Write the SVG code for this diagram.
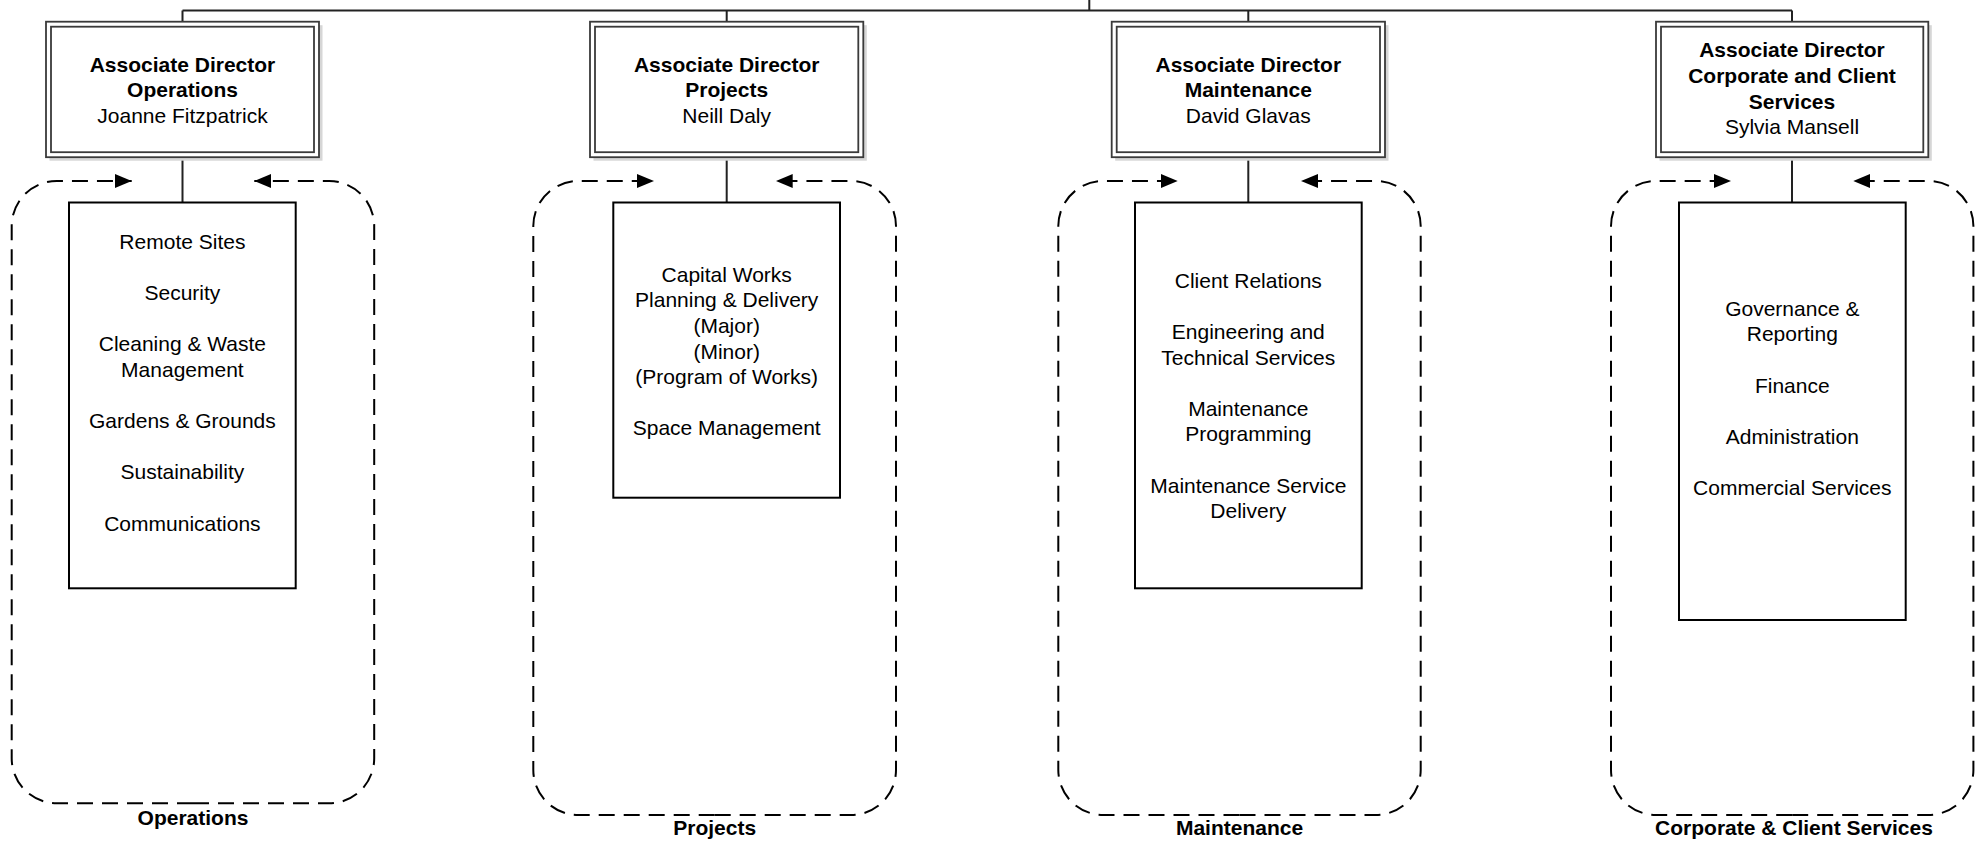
<svg xmlns="http://www.w3.org/2000/svg" width="1975" height="842" viewBox="0 0 1975 842">
<style>
text{font-family:"Liberation Sans",Arial,sans-serif;font-size:21px;fill:#000;text-anchor:middle}
.b{font-weight:bold}
.shadow{fill:#d6d6d6;stroke:none}
.outer{fill:#fff;stroke:#3a3a3a;stroke-width:1.8}
.inner{fill:none;stroke:#3a3a3a;stroke-width:1.8}
.sub{fill:#fff;stroke:#000;stroke-width:2}
.conn{fill:none;stroke:#222;stroke-width:2}
.dash{fill:none;stroke:#000;stroke-width:2;stroke-dasharray:16 9;marker-end:url(#arr)}
</style>
<defs>
<marker id="arr" viewBox="0 0 17 14" refX="17" refY="7" markerWidth="17" markerHeight="14" markerUnits="userSpaceOnUse" orient="auto">
<path d="M0,0 L17,7 L0,14 Z" fill="#000"/>
</marker>
</defs>
<rect width="1975" height="842" fill="#fff"/>

<g id="connectors">
<path class="conn" d="M182.5,10.5 H1792 M1089.3,0 V10.5 M182.5,10.5 V21.7 M726.7,10.5 V21.7 M1248.3,10.5 V21.7 M1792,10.5 V21.7"/>
<path class="conn" d="M182.5,157.2 V202.5 M726.7,157.2 V202.5 M1248.3,157.2 V202.5 M1792,157.2 V202.5"/>
<path class="dash" d="M193,803.3 H56.7 A45,45 0 0 1 11.7,758.3 V226 A45,45 0 0 1 56.7,181 H131.7"/>
<path class="dash" d="M193,803.3 H329.2 A45,45 0 0 0 374.2,758.3 V226 A45,45 0 0 0 329.2,181 H254.3"/>
<path class="dash" d="M714.7,815 H578.3 A45,45 0 0 1 533.3,770 V226 A45,45 0 0 1 578.3,181 H654"/>
<path class="dash" d="M714.7,815 H851 A45,45 0 0 0 896,770 V226 A45,45 0 0 0 851,181 H775.7"/>
<path class="dash" d="M1239.5,815 H1103.3 A45,45 0 0 1 1058.3,770 V226 A45,45 0 0 1 1103.3,181 H1177.7"/>
<path class="dash" d="M1239.5,815 H1375.7 A45,45 0 0 0 1420.7,770 V226 A45,45 0 0 0 1375.7,181 H1301"/>
<path class="dash" d="M1792.2,815 H1656 A45,45 0 0 1 1611,770 V226 A45,45 0 0 1 1656,181 H1731"/>
<path class="dash" d="M1792.2,815 H1928.4 A45,45 0 0 0 1973.4,770 V226 A45,45 0 0 0 1928.4,181 H1853.3"/>
</g>

<g id="ad-operations">
<rect class="shadow" x="49.5" y="25.2" width="273" height="135.5"/>
<rect class="outer" x="46" y="21.7" width="273" height="135.5"/>
<rect class="inner" x="51" y="26.7" width="263" height="125.5"/>
<text class="b" x="182.5" y="71.7">Associate Director</text>
<text class="b" x="182.5" y="97.3">Operations</text>
<text x="182.5" y="122.9">Joanne Fitzpatrick</text>
</g>

<g id="ad-projects">
<rect class="shadow" x="593.5" y="25.2" width="273.3" height="135.5"/>
<rect class="outer" x="590" y="21.7" width="273.3" height="135.5"/>
<rect class="inner" x="595" y="26.7" width="263.3" height="125.5"/>
<text class="b" x="726.7" y="71.7">Associate Director</text>
<text class="b" x="726.7" y="97.3">Projects</text>
<text x="726.7" y="122.9">Neill Daly</text>
</g>

<g id="ad-maintenance">
<rect class="shadow" x="1115.2" y="25.2" width="273.3" height="135.5"/>
<rect class="outer" x="1111.7" y="21.7" width="273.3" height="135.5"/>
<rect class="inner" x="1116.7" y="26.7" width="263.3" height="125.5"/>
<text class="b" x="1248.3" y="71.7">Associate Director</text>
<text class="b" x="1248.3" y="97.3">Maintenance</text>
<text x="1248.3" y="122.9">David Glavas</text>
</g>

<g id="ad-corporate">
<rect class="shadow" x="1659.5" y="25.2" width="272.3" height="135.5"/>
<rect class="outer" x="1656" y="21.7" width="272.3" height="135.5"/>
<rect class="inner" x="1661" y="26.7" width="262.3" height="125.5"/>
<text class="b" x="1792" y="57.3">Associate Director</text>
<text class="b" x="1792" y="82.9">Corporate and Client</text>
<text class="b" x="1792" y="108.5">Services</text>
<text x="1792" y="134.1">Sylvia Mansell</text>
</g>

<g id="sub-operations">
<rect class="sub" x="69" y="202.5" width="226.7" height="385.8"/>
<text x="182.4" y="249">Remote Sites</text>
<text x="182.4" y="300.2">Security</text>
<text x="182.4" y="351.4">Cleaning &amp; Waste</text>
<text x="182.4" y="377">Management</text>
<text x="182.4" y="428.2">Gardens &amp; Grounds</text>
<text x="182.4" y="479.4">Sustainability</text>
<text x="182.4" y="530.6">Communications</text>
</g>

<g id="sub-projects">
<rect class="sub" x="613.3" y="202.5" width="226.7" height="295.2"/>
<text x="726.7" y="281.7">Capital Works</text>
<text x="726.7" y="307.3">Planning &amp; Delivery</text>
<text x="726.7" y="332.9">(Major)</text>
<text x="726.7" y="358.5">(Minor)</text>
<text x="726.7" y="384.1">(Program of Works)</text>
<text x="726.7" y="435.3">Space Management</text>
</g>

<g id="sub-maintenance">
<rect class="sub" x="1135" y="202.5" width="226.7" height="385.8"/>
<text x="1248.3" y="287.7">Client Relations</text>
<text x="1248.3" y="338.9">Engineering and</text>
<text x="1248.3" y="364.5">Technical Services</text>
<text x="1248.3" y="415.7">Maintenance</text>
<text x="1248.3" y="441.3">Programming</text>
<text x="1248.3" y="492.5">Maintenance Service</text>
<text x="1248.3" y="518.1">Delivery</text>
</g>

<g id="sub-corporate">
<rect class="sub" x="1679" y="202.5" width="226.7" height="417.5"/>
<text x="1792.3" y="315.7">Governance &amp;</text>
<text x="1792.3" y="341.3">Reporting</text>
<text x="1792.3" y="392.5">Finance</text>
<text x="1792.3" y="443.7">Administration</text>
<text x="1792.3" y="494.9">Commercial Services</text>
</g>

<g id="labels">
<text class="b" x="193" y="825">Operations</text>
<text class="b" x="714.7" y="835">Projects</text>
<text class="b" x="1239.5" y="835">Maintenance</text>
<text class="b" x="1794" y="835">Corporate &amp; Client Services</text>
</g>
</svg>
